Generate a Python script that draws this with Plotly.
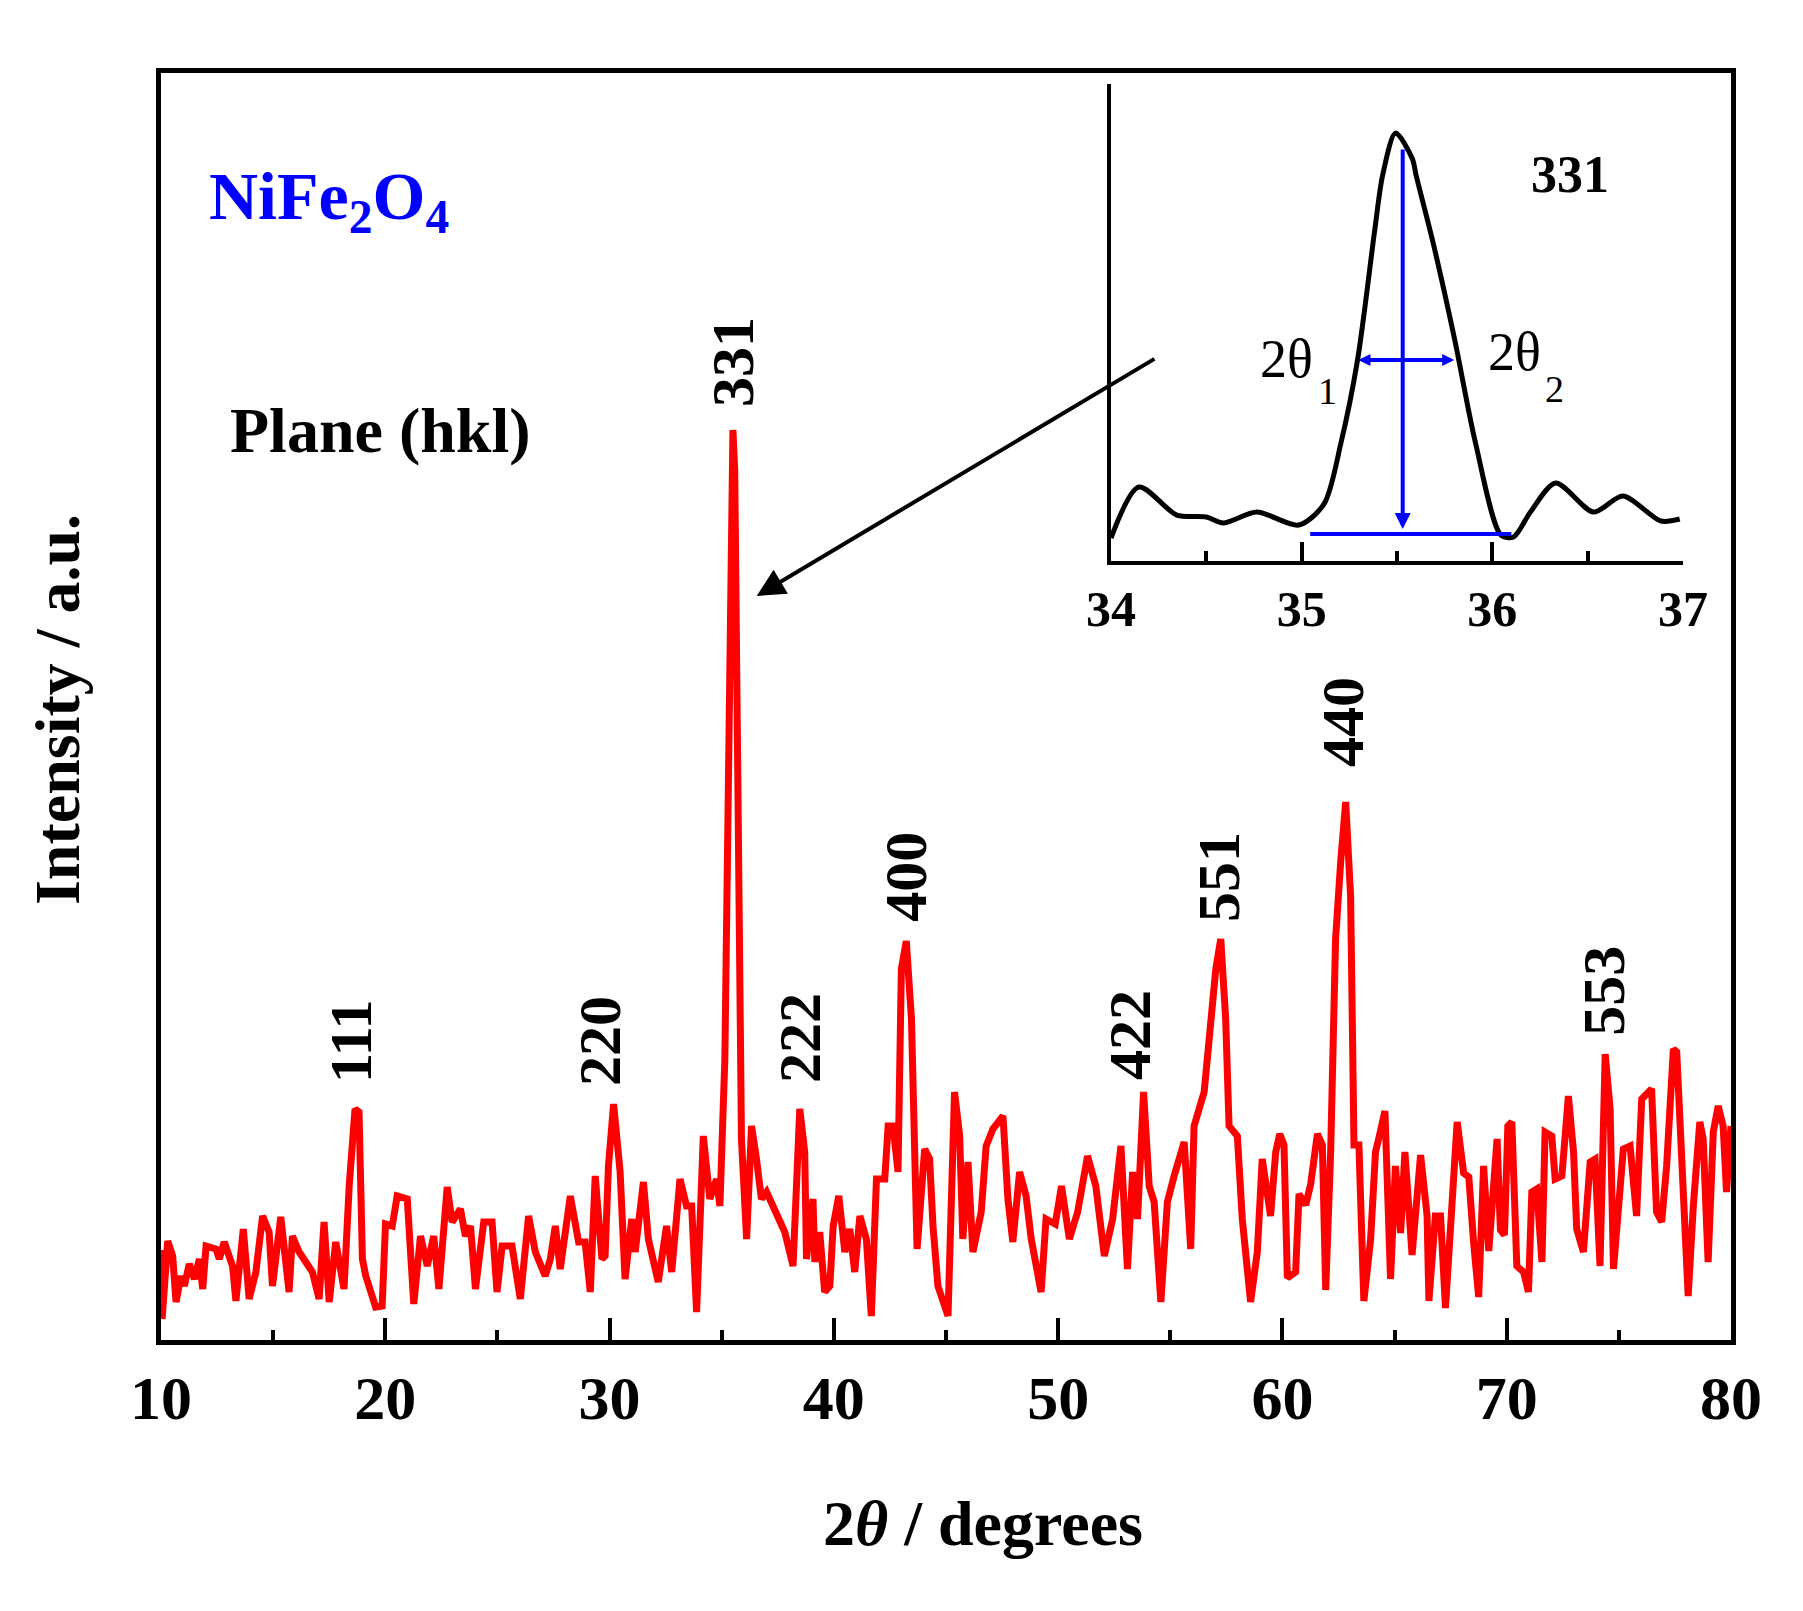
import plotly.graph_objects as go

# ---------------- data ----------------
two_theta = [
    10.0, 10.05, 10.30, 10.52, 10.67, 10.89, 11.04, 11.26, 11.49, 11.71,
    11.86, 12.01, 12.45, 12.60, 12.82, 13.19, 13.34, 13.67, 13.93, 14.23,
    14.53, 14.82, 14.97, 15.34, 15.71, 15.86, 16.16, 16.46, 16.75, 17.05,
    17.27, 17.50, 17.79, 18.16, 18.39, 18.65, 18.83, 18.98, 19.13, 19.57,
    19.86, 20.01, 20.31, 20.53, 20.98, 21.27, 21.57, 21.87, 22.16, 22.39,
    22.76, 22.98, 23.35, 23.57, 23.80, 24.02, 24.39, 24.76, 24.98, 25.21,
    25.65, 26.02, 26.39, 26.69, 27.13, 27.36, 27.58, 27.80, 28.25, 28.62,
    28.91, 29.14, 29.36, 29.66, 29.80, 29.95, 30.18, 30.47, 30.69, 30.99,
    31.14, 31.51, 31.73, 32.17, 32.54, 32.77, 33.14, 33.43, 33.66, 33.88,
    34.18, 34.47, 34.77, 34.92, 35.00, 35.14, 35.30, 35.42, 35.50, 35.58,
    35.68, 35.80, 35.88, 36.11, 36.33, 36.55, 36.77, 37.00, 37.37, 37.81,
    38.18, 38.48, 38.70, 38.78, 39.07, 39.15, 39.37, 39.59, 39.82, 39.97,
    40.22, 40.49, 40.71, 40.93, 41.16, 41.45, 41.67, 41.90, 42.27, 42.42,
    42.64, 42.86, 43.01, 43.23, 43.46, 43.60, 43.71, 44.05, 44.27, 44.42,
    44.64, 45.09, 45.38, 45.61, 45.75, 45.98, 46.20, 46.57, 46.79, 47.09,
    47.54, 47.76, 47.98, 48.28, 48.57, 48.80, 49.24, 49.46, 49.87, 50.15,
    50.50, 50.87, 51.31, 51.68, 52.06, 52.43, 52.80, 53.09, 53.32, 53.54,
    53.81, 54.06, 54.28, 54.58, 54.87, 55.17, 55.62, 55.91, 56.06, 56.51,
    56.80, 57.03, 57.25, 57.47, 57.62, 57.99, 58.21, 58.58, 58.88, 59.10,
    59.47, 59.70, 59.88, 60.07, 60.22, 60.59, 60.74, 61.04, 61.26, 61.56,
    61.78, 61.93, 62.15, 62.37, 62.60, 62.82, 63.04, 63.19, 63.41, 63.63,
    63.93, 64.15, 64.30, 64.57, 64.82, 65.04, 65.27, 65.46, 65.78, 66.16,
    66.45, 66.53, 66.82, 67.05, 67.27, 67.57, 67.79, 68.08, 68.31, 68.53,
    68.75, 68.97, 69.20, 69.57, 69.72, 69.90, 70.05, 70.23, 70.45, 70.75,
    70.97, 71.12, 71.34, 71.57, 71.71, 72.01, 72.16, 72.46, 72.75, 72.98,
    73.12, 73.42, 73.72, 73.94, 74.16, 74.39, 74.61, 74.76, 74.98, 75.20,
    75.50, 75.79, 76.02, 76.46, 76.68, 76.91, 77.13, 77.43, 77.58, 77.80,
    78.09, 78.32, 78.61, 78.76, 78.98, 79.21, 79.43, 79.65, 79.80, 80.00,
]
intensity = [
    90, 21, 99, 84, 38, 64, 54, 76, 61, 81,
    51, 94, 91, 81, 98, 74, 39, 111, 41, 68,
    124, 108, 54, 123, 48, 104, 88, 78, 68, 41,
    118, 38, 98, 51, 154, 231, 228, 81, 64, 33,
    34, 116, 114, 144, 141, 36, 104, 74, 104, 51,
    153, 118, 131, 104, 114, 51, 118, 118, 48, 94,
    94, 41, 124, 88, 64, 81, 114, 71, 144, 98,
    98, 48, 164, 81, 84, 174, 236, 168, 61, 121,
    88, 158, 101, 58, 114, 68, 161, 134, 134, 28,
    204, 141, 161, 134, 208, 281, 560, 860, 910, 870,
    600, 340, 201, 101, 214, 181, 141, 148, 128, 108,
    74, 231, 188, 81, 141, 78, 108, 48, 54, 114,
    144, 88, 111, 68, 124, 101, 24, 161, 161, 214,
    214, 168, 371, 399, 321, 168, 91, 191, 181, 114,
    54, 24, 248, 204, 101, 178, 88, 128, 194, 211,
    224, 141, 98, 168, 144, 101, 48, 121, 116, 154,
    101, 128, 184, 154, 84, 121, 194, 71, 168, 121,
    248, 154, 138, 38, 138, 164, 198, 91, 214, 248,
    321, 371, 401, 321, 214, 204, 121, 38, 88, 181,
    124, 188, 206, 195, 62, 68, 146, 135, 156, 206,
    195, 50, 188, 401, 479, 538, 444, 195, 195, 39,
    100, 188, 202, 229, 61, 174, 107, 188, 85, 185,
    124, 39, 124, 124, 32, 135, 218, 167, 163, 96,
    43, 174, 89, 201, 110, 105, 214, 218, 74, 68,
    48, 148, 151, 78, 208, 204, 161, 164, 244, 188,
    111, 88, 178, 181, 74, 286, 231, 71, 128, 191,
    194, 124, 241, 251, 128, 118, 174, 291, 288, 181,
    44, 134, 218, 201, 78, 208, 234, 214, 148, 214,
]

# peak labels (hkl) and where they sit
peak_labels = ["111", "220", "331", "222", "400", "422", "551", "440", "553"]
peak_label_x = [18.47, 29.57, 35.50, 38.49, 43.21, 53.20, 57.17, 62.70, 74.33]
peak_label_y = [299, 299, 978, 302, 463, 305, 463, 618, 349]

# inset: the 331 reflection
inset_x = [34.00, 34.146, 34.345, 34.50, 34.588, 34.765, 34.985, 35.117, 35.206,
           35.294, 35.382, 35.425, 35.493, 35.581, 35.60, 35.691, 35.802, 35.912,
           36.045, 36.111, 36.20, 36.332, 36.531, 36.685, 36.884, 36.983]
inset_y = [23, 74, 46, 44, 38, 49, 36, 57, 118,
           202, 329, 386, 428, 402, 386, 317, 222, 118,
           26, 24, 49, 78, 49, 65, 40, 42]

x_ticks = [10, 20, 30, 40, 50, 60, 70, 80]
inset_ticks = [34, 35, 36, 37]

FONT = "Liberation Serif, Times New Roman, serif"
BLUE = "#0000FF"
RED = "#FF0000"

fig = go.Figure()
fig.add_trace(go.Scatter(x=two_theta, y=intensity, mode="lines",
                         line=dict(color=RED, width=7), xaxis="x", yaxis="y",
                         showlegend=False, hoverinfo="skip"))
fig.add_trace(go.Scatter(x=inset_x, y=inset_y, mode="lines",
                         line=dict(color="black", width=5, shape="spline", smoothing=0.8),
                         xaxis="x2", yaxis="y2", showlegend=False, hoverinfo="skip"))

ann = []
for t, x, y in zip(peak_labels, peak_label_x, peak_label_y):
    ann.append(dict(x=x, y=y, xref="x", yref="y", text=t, showarrow=False,
                    textangle=-90, xanchor="center", yanchor="middle",
                    font=dict(family=FONT, size=60, color="black", weight="bold")))

# axis titles
ann.append(dict(x=0.5236, y=-0.1452, xref="paper", yref="paper",
                text="2<i>θ</i> / degrees", showarrow=False,
                xanchor="center", yanchor="middle",
                font=dict(family=FONT, size=64, color="black", weight="bold")))
ann.append(dict(x=-0.0659, y=0.4976, xref="paper", yref="paper",
                text="Intensity / a.u.", showarrow=False, textangle=-90,
                xanchor="center", yanchor="middle",
                font=dict(family=FONT, size=64, color="black", weight="bold")))

# labels inside main panel
ann.append(dict(x=12.05, y=1140, xref="x", yref="y",
                text="NiFe<sub>2</sub>O<sub>4</sub>", showarrow=False,
                xanchor="left", yanchor="middle",
                font=dict(family=FONT, size=68, color=BLUE, weight="bold")))
ann.append(dict(x=19.76, y=910, xref="x", yref="y", text="Plane (hkl)",
                showarrow=False, xanchor="center", yanchor="middle",
                font=dict(family=FONT, size=64, color="black", weight="bold")))

# arrow from inset to the 331 peak
ann.append(dict(x=36.56, y=744, xref="x", yref="y", ax=54.36, ay=982,
                axref="x", ayref="y", text="", showarrow=True,
                arrowhead=2, arrowsize=1.4, arrowwidth=4, arrowcolor="black"))

# inset texts
ann.append(dict(x=36.407, y=387, xref="x2", yref="y2", text="331", showarrow=False,
                xanchor="center", yanchor="middle",
                font=dict(family=FONT, size=52, color="black", weight="bold")))
ann.append(dict(x=34.92, y=202, xref="x2", yref="y2", text="2θ", showarrow=False,
                xanchor="center", yanchor="middle",
                font=dict(family=FONT, size=54, color="black")))
ann.append(dict(x=35.133, y=170, xref="x2", yref="y2", text="1", showarrow=False,
                xanchor="center", yanchor="middle",
                font=dict(family=FONT, size=38, color="black")))
ann.append(dict(x=36.116, y=209, xref="x2", yref="y2", text="2θ", showarrow=False,
                xanchor="center", yanchor="middle",
                font=dict(family=FONT, size=54, color="black")))
ann.append(dict(x=36.325, y=172, xref="x2", yref="y2", text="2", showarrow=False,
                xanchor="center", yanchor="middle",
                font=dict(family=FONT, size=38, color="black")))

# blue measurement arrows in inset
ann.append(dict(x=35.53, y=32, xref="x2", yref="y2", ax=35.53, ay=413,
                axref="x2", ayref="y2", text="", showarrow=True,
                arrowhead=2, arrowsize=0.8, arrowwidth=4, arrowcolor=BLUE))
ann.append(dict(x=35.80, y=201, xref="x2", yref="y2", ax=35.29, ay=201,
                axref="x2", ayref="y2", text="", showarrow=True,
                arrowhead=2, startarrowhead=2, arrowside="end+start",
                arrowsize=0.6, startarrowsize=0.6, arrowwidth=4, arrowcolor=BLUE))

shapes = [dict(type="line", xref="x2", yref="y2", x0=35.045, x1=36.10, y0=27, y1=27,
               line=dict(color=BLUE, width=4))]

fig.update_layout(
    width=1803, height=1611,
    margin=dict(l=161, r=72, t=73, b=271),
    paper_bgcolor="white", plot_bgcolor="white",
    showlegend=False,
    annotations=ann, shapes=shapes,
    xaxis=dict(range=[10, 80], showline=True, linewidth=5, linecolor="black",
               mirror=True, ticks="inside", tickvals=x_ticks, ticklen=22,
               tickwidth=4, tickcolor="black", showgrid=False, zeroline=False,
               minor=dict(ticks="inside", dtick=5, tick0=10, ticklen=10, tickwidth=4,
                          tickcolor="black", showgrid=False),
               tickfont=dict(family=FONT, size=62, color="black", weight="bold"),
               ticklabelstandoff=0),
    yaxis=dict(range=[0, 1267], showline=True, linewidth=5, linecolor="black",
               mirror=True, ticks="", showticklabels=False, showgrid=False,
               zeroline=False),
    xaxis2=dict(domain=[0.6051, 0.9694], anchor="y2", range=[34, 37],
                showline=True, linewidth=4, linecolor="black", mirror=False,
                ticks="inside", tickvals=inset_ticks, ticklen=19, tickwidth=4,
                tickcolor="black", showgrid=False, zeroline=False,
                minor=dict(ticks="inside", dtick=0.5, tick0=34, ticklen=10,
                           tickwidth=4, tickcolor="black", showgrid=False),
                tickfont=dict(family=FONT, size=50, color="black", weight="bold"),
                ticklabelstandoff=1),
    yaxis2=dict(domain=[0.6148, 0.9913], anchor="x2", range=[0, 477],
                showline=True, linewidth=4, linecolor="black", mirror=False,
                ticks="", showticklabels=False, showgrid=False, zeroline=False),
)

fig.write_html("out.html")
